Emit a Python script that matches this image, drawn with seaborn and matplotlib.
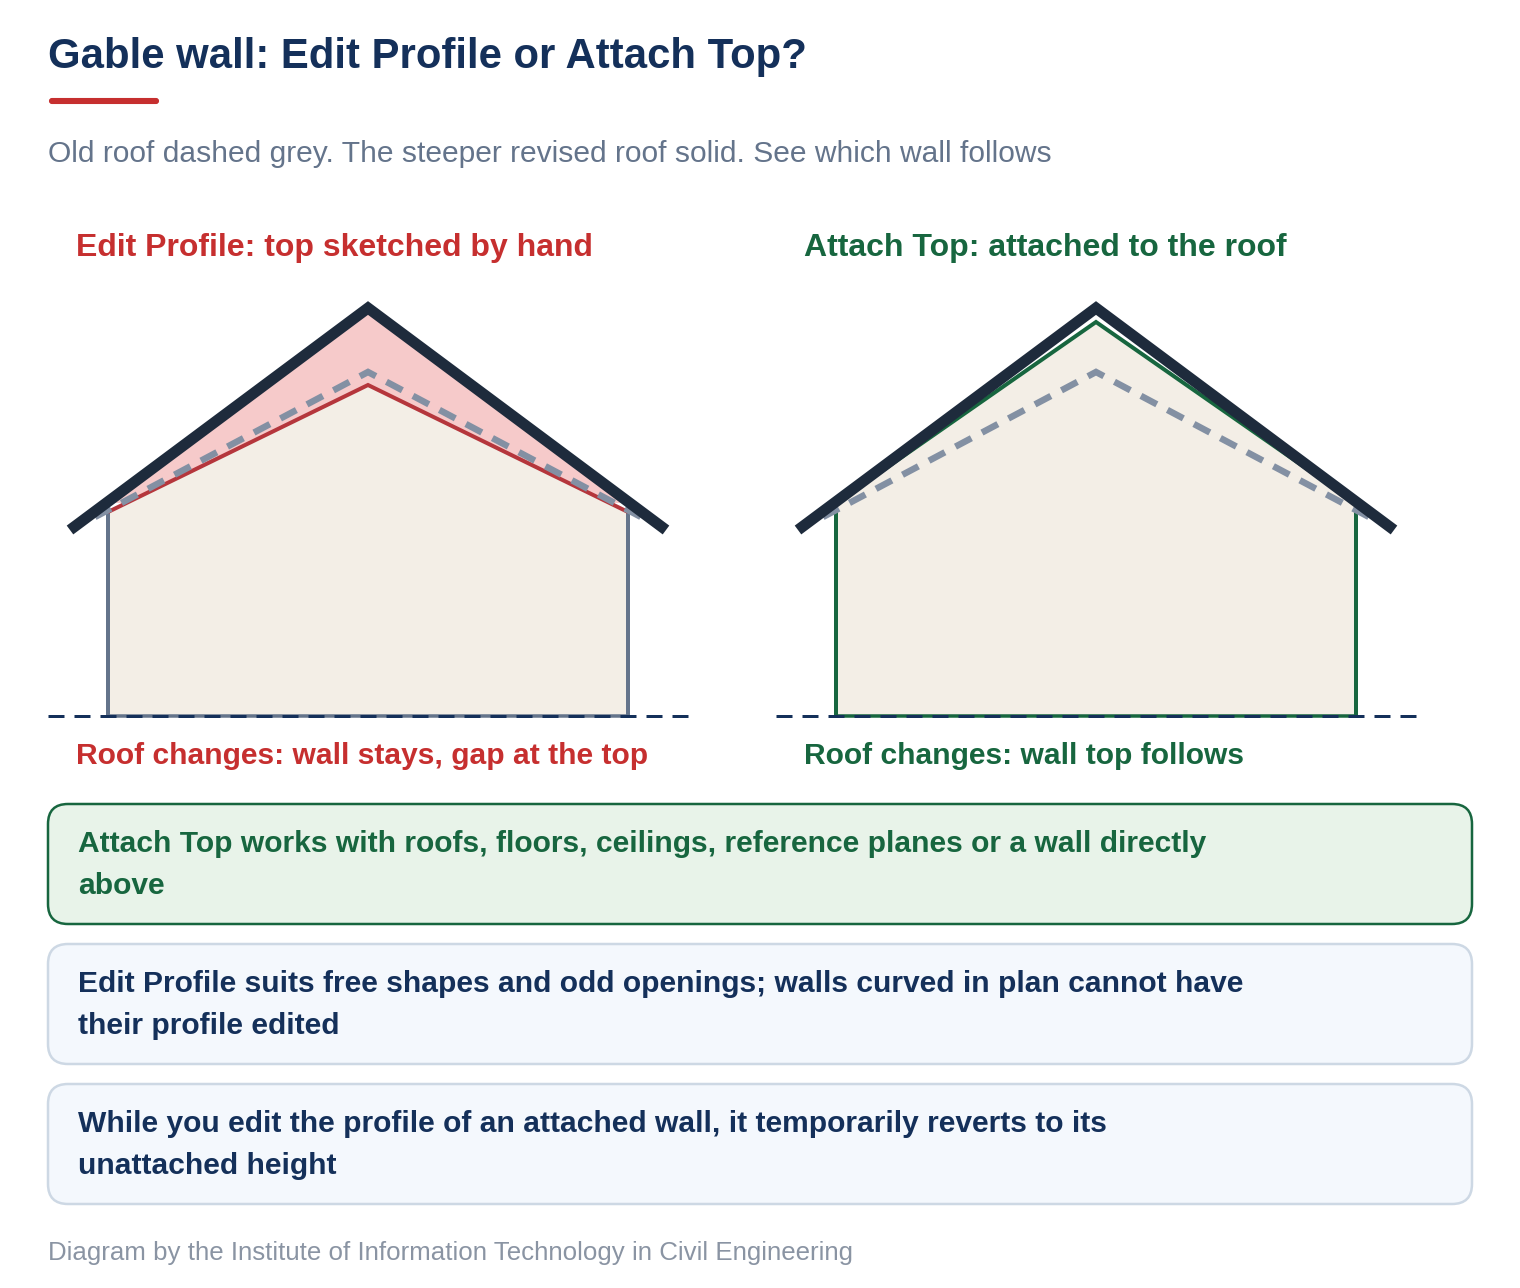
import matplotlib
matplotlib.use('Agg')
import matplotlib.pyplot as plt
import seaborn as sns
from matplotlib.patches import FancyBboxPatch

sns.set_theme(style='white')
plt.rcParams['font.family'] = ['Liberation Sans', 'DejaVu Sans']
plt.rcParams['lines.scale_dashes'] = False

NAVY = '#14305a'
ROOF = '#1e2b3c'
RED = '#c62f2f'
DARK_RED = '#b5363c'
GREEN = '#17663f'
GREY = '#64748b'
OLD_ROOF = '#8390a3'
WALL_FILL = '#f3eee6'
GAP_FILL = '#f6caca'
PX = 72 / 100

title = 'Gable wall: Edit Profile or Attach Top?'
subtitle = 'Old roof dashed grey. The steeper revised roof solid. See which wall follows'
footer = 'Diagram by the Institute of Information Technology in Civil Engineering'

# house outline, px on the 1520x1288 canvas
left_offset = 0
right_offset = 728
roof_x = [70, 368, 666]
roof_y = [530, 308, 530]
old_roof_x = [95, 368, 641]
old_roof_y = [517, 372, 517]
wall_x = [108, 108, 628, 628]
wall_y = [716, 510, 510, 716]
edit_top_x = [108, 368, 628]
edit_top_y = [512, 385, 512]
attach_top_x = [108, 368, 628]
attach_top_y = [503, 322, 503]
gap_top_y = [503, 312, 503]
ground_x = [48, 688]
ground_y = [716, 716]
base_y = [716, 716]

panel_titles = ['Edit Profile: top sketched by hand', 'Attach Top: attached to the roof']
panel_notes = ['Roof changes: wall stays, gap at the top', 'Roof changes: wall top follows']

box_texts = [
    'Attach Top works with roofs, floors, ceilings, reference planes or a wall directly\nabove',
    'Edit Profile suits free shapes and odd openings; walls curved in plan cannot have\ntheir profile edited',
    'While you edit the profile of an attached wall, it temporarily reverts to its\nunattached height',
]
box_tops = [804, 944, 1084]
box_fills = ['#e8f3e9', '#f4f8fd', '#f4f8fd']
box_edges = [GREEN, '#cdd8e4', '#cdd8e4']
box_colors = [GREEN, NAVY, NAVY]

fig = plt.figure(figsize=(15.2, 12.88), dpi=100)
ax = fig.add_axes([0, 0, 1, 1])
ax.set_xlim(0, 1520)
ax.set_ylim(1288, 0)
ax.axis('off')


def line(xs, ys, color, width, dash=None, z=3):
    kw = {'solid_joinstyle': 'miter', 'dash_joinstyle': 'miter',
          'solid_capstyle': 'butt', 'dash_capstyle': 'butt'}
    if dash:
        kw['linestyle'] = (0, (dash[0] * PX, dash[1] * PX))
    sns.lineplot(x=xs, y=ys, sort=False, estimator=None, color=color,
                 linewidth=width * PX, zorder=z, ax=ax, legend=False, **kw)


def house(off, attached):
    wx = [x + off for x in wall_x]
    top_x = [x + off for x in attach_top_x]
    gx = [x + off for x in ground_x]
    top_y = attach_top_y if attached else edit_top_y
    if not attached:
        ax.fill(top_x, gap_top_y, color=GAP_FILL, lw=0, zorder=1)
    ax.fill([wx[0]] + top_x + [wx[3]], [716] + top_y + [716], color=WALL_FILL, lw=0, zorder=1)
    wall_col = GREEN if attached else GREY
    line(wx[:2], wall_y[:2], wall_col, 4)
    line(wx[2:], wall_y[2:], wall_col, 4)
    line([wx[0], wx[3]], base_y, wall_col, 3.5)
    line(gx, ground_y, NAVY, 3, dash=(16, 10), z=4)
    line(top_x, top_y, GREEN if attached else DARK_RED, 4)
    line([x + off for x in old_roof_x], old_roof_y, OLD_ROOF, 6.5, dash=(18, 12), z=5)
    line([x + off for x in roof_x], roof_y, ROOF, 11, z=6)


house(left_offset, False)
house(right_offset, True)

ax.text(48, 57, title, fontsize=30.18, fontweight='bold', color=NAVY, va='center')
ax.add_patch(FancyBboxPatch((50, 99), 108, 4, boxstyle='round,pad=0,rounding_size=2',
                            fc=RED, ec=RED, lw=1.5))
ax.text(48, 154, subtitle, fontsize=21.63, color=GREY, va='center')
ax.text(48, 1253, footer, fontsize=18.67, color='#8a94a3', va='center')

for off, col, t, n in zip([left_offset, right_offset], [RED, GREEN], panel_titles, panel_notes):
    ax.text(76 + off, 248, t, fontsize=23, fontweight='bold', color=col, va='center')
    ax.text(76 + off, 756, n, fontsize=21.6, fontweight='bold', color=col, va='center')

for top, txt, fc, ec, col in zip(box_tops, box_texts, box_fills, box_edges, box_colors):
    ax.add_patch(FancyBboxPatch((48, top), 1424, 120, boxstyle='round,pad=0,rounding_size=20',
                                fc=fc, ec=ec, lw=2.5 * PX, zorder=2))
    first, second = txt.split('\n')
    ax.text(78, top + 40, first, fontsize=21.6, fontweight='bold', color=col, va='center', zorder=3)
    ax.text(78, top + 82, second, fontsize=21.6, fontweight='bold', color=col, va='center', zorder=3)

fig.savefig('out.png', dpi=100, facecolor='white')
